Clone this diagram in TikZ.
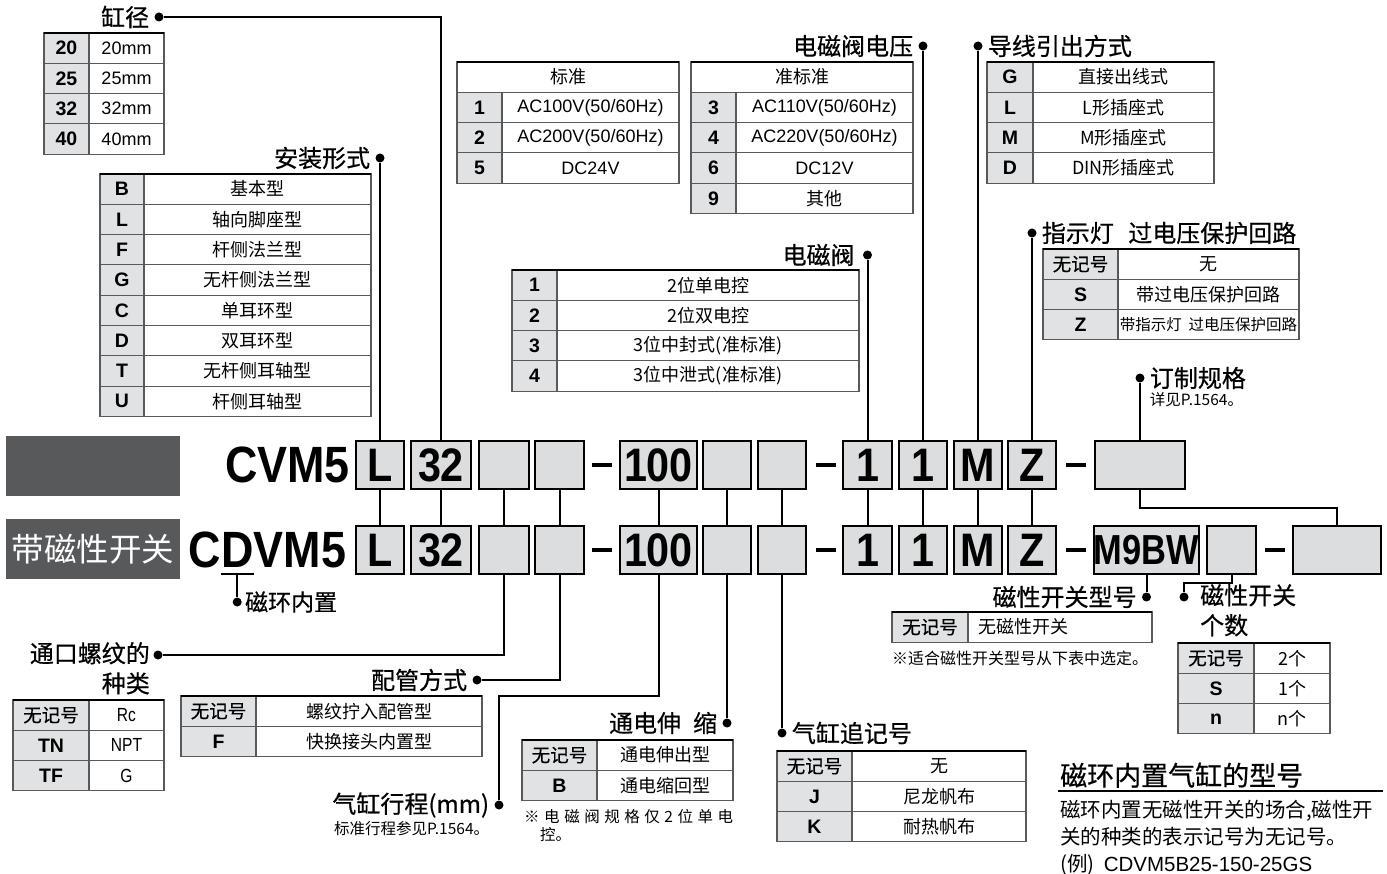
\documentclass[tikz,border=0pt]{standalone}
\usepackage{fontspec}
\setmainfont{Liberation Sans}
\newfontfamily\cjk{Noto Sans CJK SC}
\newfontfamily\cjkmed[FakeBold=0.6]{Noto Sans CJK SC}
\newfontfamily\codefont[FakeStretch=0.88]{Liberation Sans}
\newfontfamily\narrowfont[FakeStretch=0.82]{Liberation Sans}
\usetikzlibrary{positioning}

\definecolor{cellgray}{HTML}{E1E2E3}
\definecolor{boxgray}{HTML}{DCDDDE}
\definecolor{bandgray}{HTML}{58595B}
\definecolor{rulegray}{HTML}{58595B}

\newcommand{\tabcn}{\cjk\fontsize{18}{20}\selectfont}
\newcommand{\tablat}{\fontsize{18}{20}\selectfont}
\newcommand{\nomark}{{\cjkmed\mdseries\fontsize{18.5}{20}\selectfont 无记号}}

% key / value rows of one spec table
\newcommand{\spectable}[7]{%
  \foreach \k/\v [count=\i] in {#7}{%
    \node[keycell, minimum width=#4, anchor=north west] (#1-k\i) at (#2, {#3+30.3*(\i-1)}) {\k};
    \node[valcell, minimum width=#5, anchor=north west, #6] (#1-v\i) at (#1-k\i.north east) {\v};
  }%
}

\begin{document}
\begin{tikzpicture}[x=1pt, y=-1pt,
  keycell/.style={draw=rulegray, line width=1.1, fill=cellgray, minimum height=30.3, inner sep=0, outer sep=0, font=\bfseries\fontsize{19.5}{21}\selectfont},
  valcell/.style={draw=rulegray, line width=1.1, fill=white, minimum height=30.3, inner sep=0, outer sep=0},
  headcell/.style={draw=rulegray, line width=1.1, fill=white, minimum height=30.3, inner sep=0, outer sep=0, font=\tabcn},
  topline/.style={line width=2.6},
  codebox/.style={draw=black, line width=2.2, fill=boxgray, minimum height=48, inner sep=0, font=\codefont\bfseries\fontsize{47}{50}\selectfont},
  codetext/.style={inner sep=0, font=\codefont\bfseries\fontsize{51}{54}\selectfont},
  dashbar/.style={fill=black, minimum width=20, minimum height=4.5, inner sep=0},
  dot/.style={circle, fill=black, minimum size=9, inner sep=0},
  wire/.style={line width=2},
  title/.style={inner sep=0, font=\cjkmed\fontsize{24}{30}\selectfont},
  note/.style={inner sep=0, font=\cjk\fontsize{15.5}{18}\selectfont}
]
\useasboundingbox (0,0) rectangle (1387,874);

% model code rows
\node[fill=bandgray, minimum width=174, minimum height=60, inner sep=0, anchor=north west] (band1) at (6,436) {};
\node[fill=bandgray, minimum width=174, minimum height=60, inner sep=0, anchor=north west, text=white, font=\cjk\fontsize{32.5}{34}\selectfont] (band2) at (6,519) {带磁性开关};
\node[codetext, anchor=base east] (cvm5) at (350,482) {CVM5};
\node[codetext, anchor=base west] (cd-C) at (188,567) {C};
\node[codetext, anchor=base west] (cd-D) at (cd-C.base east) {D};
\node[codetext, anchor=base west] (cd-VM5) at (cd-D.base east) {VM5};

\foreach \r/\y in {r1/465, r2/550}{
  \foreach \n/\x/\w/\t in {L/380/48/L, bore/441/60/32, b1/504/50/{}, b2/559.5/49/{}, stroke/658.5/77/100, b3/727/48/{}, b4/782/48/{}, valve/867.5/49/1, volt/923/48/1, lead/978/48/M, lamp/1032/48/Z}
    \node[codebox, minimum width=\w] (\r-\n) at (\x,\y) {\t};
  \foreach \x [count=\j] in {602, 825.5, 1075.5}
    \node[dashbar] (\r-d\j) at (\x,\y) {};
}
\node[codebox, minimum width=90] (r1-made) at (1140,465) {};
\node[codebox, minimum width=103, font=\narrowfont\bfseries\fontsize{42}{44}\selectfont] (r2-sw) at (1146.5,550) {M9BW};
\node[codebox, minimum width=49] (r2-swn) at (1231.5,550) {};
\node[dashbar] (r2-d4) at (1274.5,550) {};
\node[codebox, minimum width=88] (r2-made) at (1337,550) {};

\foreach \n in {L, bore, b1, b2, stroke, b3, b4, valve, volt, lead, lamp}
  \draw[wire] (r1-\n.south) -- (r2-\n.north);
\draw[wire] (r1-made.south) -- ++(0,18) -| (r2-made.north);

% bore size
\node[dot] (bore-dot) at (159,17) {};
\node[title, left=5pt of bore-dot] (bore-title) {缸径};
\draw[wire] (bore-dot) -| (r1-bore.north);
\spectable{bore}{44}{33}{45}{75}{font=\tablat}{20/20mm, 25/25mm, 32/32mm, 40/40mm}

% mounting
\node[dot] (mount-dot) at (380,158) {};
\node[title, left=5pt of mount-dot] (mount-title) {安装形式};
\draw[wire] (mount-dot) -- (r1-L.north);
\spectable{mount}{100}{174}{44}{227}{font=\tabcn}{B/基本型, L/轴向脚座型, F/杆侧法兰型, G/无杆侧法兰型, C/单耳环型, D/双耳环型, T/无杆侧耳轴型, U/杆侧耳轴型}

% rated voltage
\node[dot] (volt-dot) at (923,46) {};
\node[title, left=5pt of volt-dot] (volt-title) {电磁阀电压};
\draw[wire] (volt-dot) -- (r1-volt.north);
\node[headcell, minimum width=222, anchor=north west] (stdv-h) at (457,62) {标准};
\spectable{stdv}{457}{92.3}{45}{177}{font=\tablat}{1/{AC100V(50/60Hz)}, 2/{AC200V(50/60Hz)}, 5/DC24V}
\node[headcell, minimum width=222, anchor=north west] (qstd-h) at (691,62) {准标准};
\spectable{qstd}{691}{92.3}{45}{177}{font=\tablat}{3/{AC110V(50/60Hz)}, 4/{AC220V(50/60Hz)}, 6/DC12V, 9/{\cjk 其他}}
\draw[topline] (stdv-h.north west) -- (stdv-h.north east);
\draw[topline] (qstd-h.north west) -- (qstd-h.north east);

% electrical entry
\node[dot] (lead-dot) at (978,46) {};
\node[title, right=5pt of lead-dot] (lead-title) {导线引出方式};
\draw[wire] (lead-dot) -- (r1-lead.north);
\spectable{lead}{987}{62}{46}{181}{font=\tabcn}{G/直接出线式, L/L形插座式, M/M形插座式, D/DIN形插座式}

% light / surge voltage suppressor
\node[dot] (lamp-dot) at (1032,233) {};
\node[title, right=5pt of lamp-dot] (lamp-title) {指示灯\hspace{0.6em}过电压保护回路};
\draw[wire] (lamp-dot) -- (r1-lamp.north);
\spectable{lamp}{1043}{249}{75}{181}{font=\tabcn}{\nomark/无, S/带过电压保护回路, Z/{\fontsize{15.5}{17}\selectfont 带指示灯\hspace{0.45em}过电压保护回路}}

% solenoid valve
\node[dot] (valve-dot) at (867.5,255) {};
\node[title, left=8pt of valve-dot] (valve-title) {电磁阀};
\draw[wire] (valve-dot) -- (r1-valve.north);
\spectable{valve}{512}{270}{45}{302}{font=\tabcn}{1/2位单电控, 2/2位双电控, 3/3位中封式(准标准), 4/3位中泄式(准标准)}

% made to order
\node[dot] (made-dot) at (1140,378) {};
\node[title, right=5pt of made-dot] (made-title) {订制规格};
\node[note, anchor=north west] (made-note) at ([yshift=-3pt]made-title.south west) {详见P.1564。};
\draw[wire] (made-dot) -- (r1-made.north);

% built-in magnet
\draw[wire] ([yshift=-7pt]cd-D.base west) -- ([yshift=-7pt]cd-D.base east);
\node[dot] (magnet-dot) at ([yshift=-35pt]cd-D.base) {};
\draw[wire] ([yshift=-7pt]cd-D.base) -- (magnet-dot);
\node[title, right=3pt of magnet-dot, font=\cjkmed\fontsize{23}{25}\selectfont] (magnet-title) {磁环内置};

% port thread
\node[dot] (port-dot) at (158,655) {};
\node[title, align=right, anchor=north east] (port-title) at (150,642) {通口螺纹的\\种类};
\draw[wire] (r2-b1.south) |- (port-dot);
\spectable{port}{13}{700}{76}{75}{font=\narrowfont\fontsize{19}{21}\selectfont}{\nomark/Rc, TN/NPT, TF/G}

% piping
\node[dot] (pipe-dot) at (477,680) {};
\node[title, left=5pt of pipe-dot] (pipe-title) {配管方式};
\draw[wire] (r2-b2.south) |- (pipe-dot);
\spectable{pipe}{181}{696}{75}{226}{font=\tabcn}{\nomark/螺纹拧入配管型, F/快换接头内置型}

% stroke
\node[dot] (stroke-dot) at (499,805) {};
\node[title, left=5pt of stroke-dot] (stroke-title) {气缸行程(mm)};
\node[note, anchor=north east] (stroke-note) at ([yshift=-3pt]stroke-title.south east) {标准行程参见P.1564。};
\draw[wire] (r2-stroke.south) -- ++(0,121) -| (stroke-dot);

% energized extension
\node[dot] (ext-dot) at (727,723) {};
\node[title, left=5pt of ext-dot] (ext-title) {通电伸\hspace{0.5em}缩};
\draw[wire] (r2-b3.south) -- (ext-dot);
\spectable{ext}{522}{740}{75}{136}{font=\tabcn}{\nomark/通电伸出型, B/通电缩回型}
\node[note, anchor=north west, align=left] (ext-note) at (524,809) {\hbox to 209pt{※\hfil 电\hfil 磁\hfil 阀\hfil 规\hfil 格\hfil 仅\hfil 2\hfil 位\hfil 单\hfil 电}\\\hspace*{16pt}控。};

% rod boot
\node[dot] (tube-dot) at (782,733) {};
\node[title, right=5pt of tube-dot] (tube-title) {气缸追记号};
\draw[wire] (r2-b4.south) -- (tube-dot);
\spectable{tube}{777}{751}{75}{174}{font=\tabcn}{\nomark/无, J/尼龙帆布, K/耐热帆布}

% auto switch
\node[dot] (sw-dot) at (1146.5,597) {};
\node[title, left=5pt of sw-dot] (sw-title) {磁性开关型号};
\draw[wire] (r2-sw.south) -- (sw-dot);
\spectable{sw}{892}{612}{76}{184}{font=\tabcn, text width=164pt, inner xsep=10pt, align=left}{\nomark/无磁性开关}
\node[note, anchor=north west, font=\cjk\fontsize{16}{18}\selectfont] (sw-note) at (892,651) {※适合磁性开关型号从下表中选定。};

% number of auto switches
\node[dot] (swn-dot) at (1184,597) {};
\draw[wire] (r2-swn.south) -- ++(0,8) -| (swn-dot);
\node[title, align=left, anchor=north west] (swn-title) at (1200,584) {磁性开关\\个数};
\spectable{swn}{1178}{643}{76}{76}{font=\tabcn}{\nomark/2个, S/1个, n/n个}

\foreach \t in {bore, mount, valve, lead, lamp, port, pipe, ext, tube, sw, swn}
  \draw[topline] (\t-k1.north west) -- (\t-v1.north east);

% built-in magnet cylinder model
\node[inner sep=0, anchor=south west, font=\cjkmed\fontsize{27}{29}\selectfont] (info-title) at (1060,788) {磁环内置气缸的型号};
\draw[line width=2] (1058,791) -- (1383,791);
\node[inner sep=0, anchor=north west, align=left, font=\cjk\fontsize{20.5}{27}\selectfont] (info-text) at (1060,800) {磁环内置无磁性开关的场合,磁性开\\关的种类的表示记号为无记号。\\(例)\ \ {\rmfamily CDVM5B25-150-25GS}};

\end{tikzpicture}
\end{document}
